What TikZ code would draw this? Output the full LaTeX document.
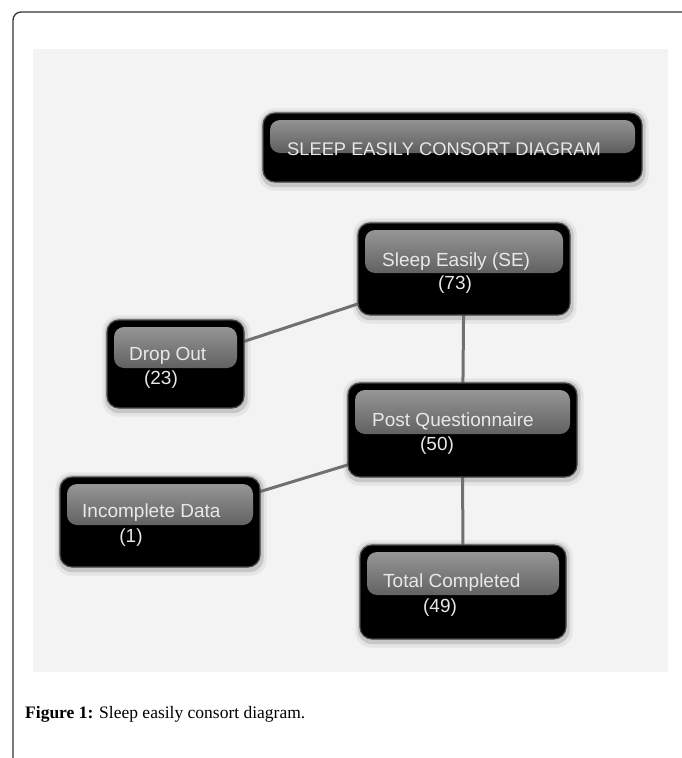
\documentclass[tikz,border=0pt]{standalone}
\usepackage{fontspec}
\setmainfont{Liberation Serif}
\newfontfamily\boxfont{Liberation Sans}
\pgfdeclarelayer{back}
\pgfdeclarelayer{shade}
\pgfdeclarelayer{conn}
\pgfsetlayers{back,shade,conn,main}
\definecolor{panel}{HTML}{F3F3F3}
\definecolor{linkgray}{HTML}{707070}
\definecolor{txt}{HTML}{E8E8E8}
\tikzset{
  gbox/.style={rounded corners=12pt, fill=black, draw=black!72, line width=1.2pt},
  band/.style={path picture={\shade[top color=black!38, bottom color=black!82, rounded corners=10pt]
    ([xshift=7pt,yshift=-7pt]path picture bounding box.north west) rectangle
    ([xshift=-7pt,yshift=-#1]path picture bounding box.north east);}},
  lbl/.style={font=\boxfont\fontsize{19}{19}\selectfont, text=txt, inner sep=0pt},
  link/.style={draw=linkgray, line width=3pt},
  halo1/.style={fill=black!10, rounded corners=16pt},
  halo2/.style={fill=black!22, rounded corners=14pt},
}
\newcommand{\boxhalo}[1]{%
  \fill[halo1] ([shift={(-4pt,4pt)}]#1.north west) rectangle ([shift={(6pt,-8pt)}]#1.south east);
  \fill[halo2] ([shift={(-1.5pt,1.5pt)}]#1.north west) rectangle ([shift={(3pt,-4.5pt)}]#1.south east);}
\begin{document}
\begin{tikzpicture}[x=1pt,y=-1pt]
\useasboundingbox (0,0) rectangle (682,758);
\begin{pgfonlayer}{back}
  \fill[white] (0,0) rectangle (682,758);
  \fill[panel] (33,49) rectangle (668,672);
  \draw[line width=1.3pt, black!80, rounded corners=8pt] (13,760) -- (13,12) -- (684,12);
\end{pgfonlayer}

% boxes
\node[gbox, band=40pt, minimum width=379pt, minimum height=69pt] (title) at (452.5,147.5) {};
\node[gbox, band=50pt, minimum width=212pt, minimum height=92pt] (se) at (464,269) {};
\node[gbox, band=48pt, minimum width=137pt, minimum height=88pt] (drop) at (175.5,364) {};
\node[gbox, band=51pt, minimum width=229pt, minimum height=94pt] (pq) at (462.5,430) {};
\node[gbox, band=48pt, minimum width=200pt, minimum height=90pt] (inc) at (160,522) {};
\node[gbox, band=50pt, minimum width=206pt, minimum height=94pt] (tot) at (463,592) {};

\begin{pgfonlayer}{shade}
  \boxhalo{title}\boxhalo{se}\boxhalo{drop}\boxhalo{pq}\boxhalo{inc}\boxhalo{tot}
\end{pgfonlayer}

% labels
\node[lbl, anchor=base west, font=\boxfont\fontsize{18.3}{18.3}\selectfont] (titleT) at (287,155) {SLEEP EASILY CONSORT DIAGRAM};
\node[lbl, anchor=base west] (seT) at (382,266) {Sleep Easily (SE)};
\node[lbl, anchor=base] (seN) at (455,289) {(73)};
\node[lbl, anchor=base west] (dropT) at (129,360) {Drop Out};
\node[lbl, anchor=base] (dropN) at (161,384) {(23)};
\node[lbl, anchor=base west] (pqT) at (372,426) {Post Questionnaire};
\node[lbl, anchor=base] (pqN) at (437,450) {(50)};
\node[lbl, anchor=base west] (incT) at (82,517) {Incomplete Data};
\node[lbl, anchor=base] (incN) at (131,542) {(1)};
\node[lbl, anchor=base west] (totT) at (383,587) {Total Completed};
\node[lbl, anchor=base] (totN) at (440,612) {(49)};

% connectors
\begin{pgfonlayer}{conn}
  \draw[link] (drop.center) -- (se.center);
  \draw[link] (se.center) -- (pq.center);
  \draw[link] (inc.center) -- (pq.center);
  \draw[link] (pq.center) -- (tot.center);
\end{pgfonlayer}

% caption
\node[anchor=base west, inner sep=0pt, font=\fontsize{17.5}{17.5}\selectfont] (cap) at (25,718)
  {\textbf{Figure 1:} Sleep easily consort diagram.};
\end{tikzpicture}
\end{document}
